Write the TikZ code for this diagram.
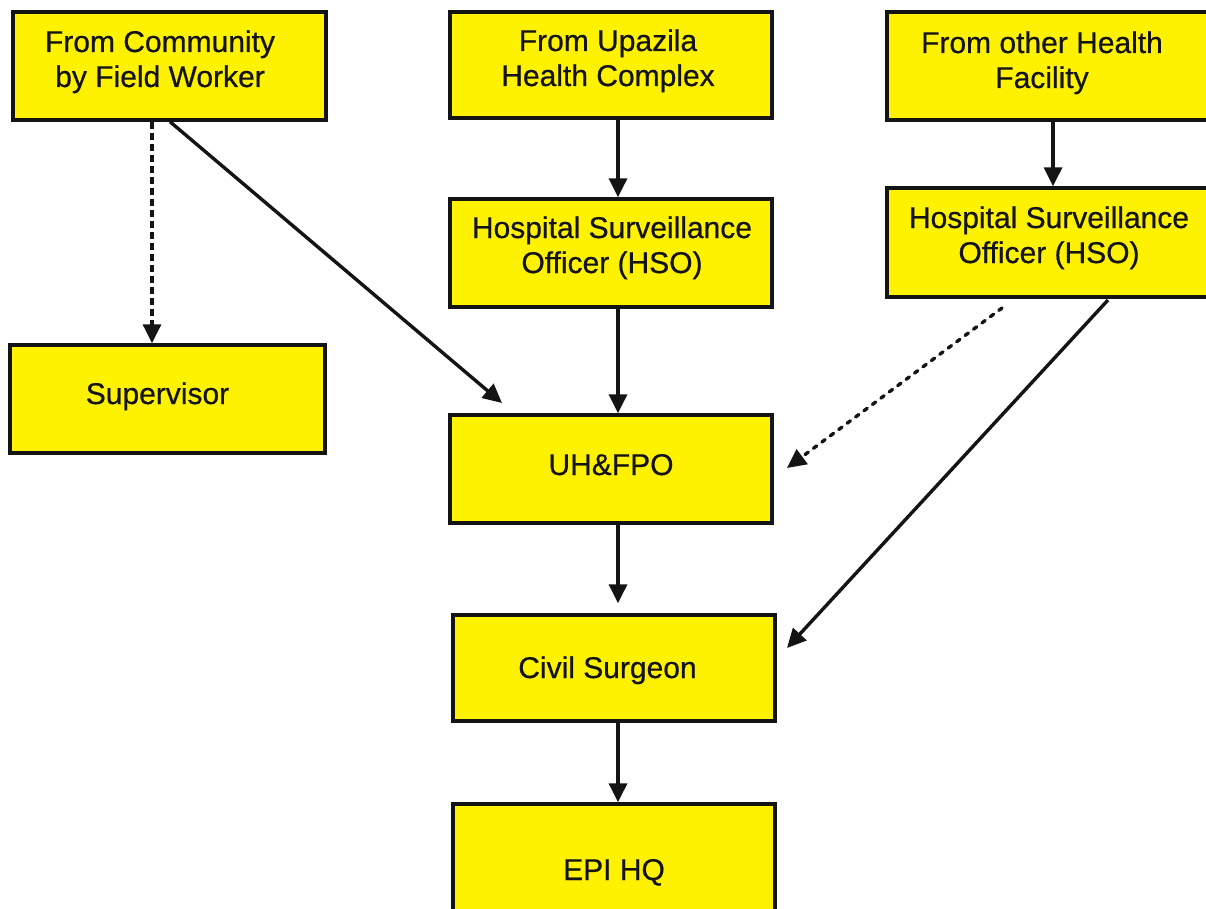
\documentclass[tikz,border=0pt]{standalone}
\usepackage{fontspec}
\setmainfont{Liberation Sans}
\newfontfamily\diagfont{Liberation Sans}[FakeBold=0.6]
\usetikzlibrary{arrows.meta}
\definecolor{boxyellow}{RGB}{255,242,0}
\definecolor{ink}{RGB}{20,20,20}
\tikzset{
  box/.style={draw=ink, line width=3.4pt, fill=boxyellow, rectangle, inner sep=0pt},
  lbl/.style={anchor=base, align=center, inner sep=0pt, text=ink,
    font=\diagfont\fontsize{30}{35}\selectfont},
  conn/.style={draw=ink, line width=3.4pt, -{Triangle[length=19pt,width=18pt]}},
  dashconn/.style={conn, dash pattern=on 7pt off 4pt},
  dotconn/.style={conn, line cap=round, dash pattern=on 4pt off 6.5pt}
}
\begin{document}
\begin{tikzpicture}[x=1pt,y=-1pt]
\useasboundingbox (0,0) rectangle (1206,909);
\fill[white] (0,0) rectangle (1206,909);
% boxes
\node[box, minimum width=313pt, minimum height=108pt] (b1) at (169.5,66) {};
\node[box, minimum width=322pt, minimum height=106pt] (b2) at (611,65) {};
\node[box, minimum width=322pt, minimum height=108pt] (b3) at (1048,66) {};
\node[box, minimum width=322pt, minimum height=108pt] (hso1) at (611,253) {};
\node[box, minimum width=322pt, minimum height=109pt] (hso2) at (1048,242.5) {};
\node[box, minimum width=315pt, minimum height=108pt] (sup) at (167.5,399) {};
\node[box, minimum width=322pt, minimum height=108pt] (uh) at (611,469) {};
\node[box, minimum width=322pt, minimum height=106pt] (cs) at (614,668) {};
\node[box, minimum width=322pt, minimum height=130pt] (epi) at (614,869) {};
% texts
\node[lbl] (b1t) at (160,87) {From Community\\by Field Worker};
\node[lbl] (b2t) at (608,86) {From Upazila\\Health Complex};
\node[lbl] (b3t) at (1042,88) {From other Health\\Facility};
\node[lbl] (hso1t) at (612,273) {Hospital Surveillance\\Officer (HSO)};
\node[lbl] (hso2t) at (1049,263) {Hospital Surveillance\\Officer (HSO)};
\node[lbl] (supt) at (157.5,404) {Supervisor};
\node[lbl] (uht) at (611,475) {UH\&FPO};
\node[lbl] (cst) at (607.5,678) {Civil Surgeon};
\node[lbl] (epit) at (614,880) {EPI HQ};
% free ends
\coordinate (e1) at (502,403);
\coordinate (s2) at (1002,308);
\coordinate (e2) at (787,468);
\coordinate (s3) at (1108,300);
\coordinate (e3) at (787,648);
% connectors
\draw[dashconn] ([xshift=-17.5pt]b1.south) -- ([xshift=-15.5pt]sup.north);
\draw[conn] ([xshift=0.5pt]b1.south) -- (e1);
\draw[conn] ([xshift=7pt]b2.south) -- ([xshift=7pt]hso1.north);
\draw[conn] ([xshift=7pt]hso1.south) -- ([xshift=7pt]uh.north);
\draw[conn] ([xshift=7pt]uh.south) -- ([xshift=4pt,yshift=10pt]cs.north);
\draw[conn] ([xshift=4pt]cs.south) -- ([xshift=4pt]epi.north);
\draw[conn] ([xshift=5pt]b3.south) -- ([xshift=5pt]hso2.north);
\draw[dotconn] (s2) -- (e2);
\draw[conn] (s3) -- (e3);
\end{tikzpicture}
\end{document}
